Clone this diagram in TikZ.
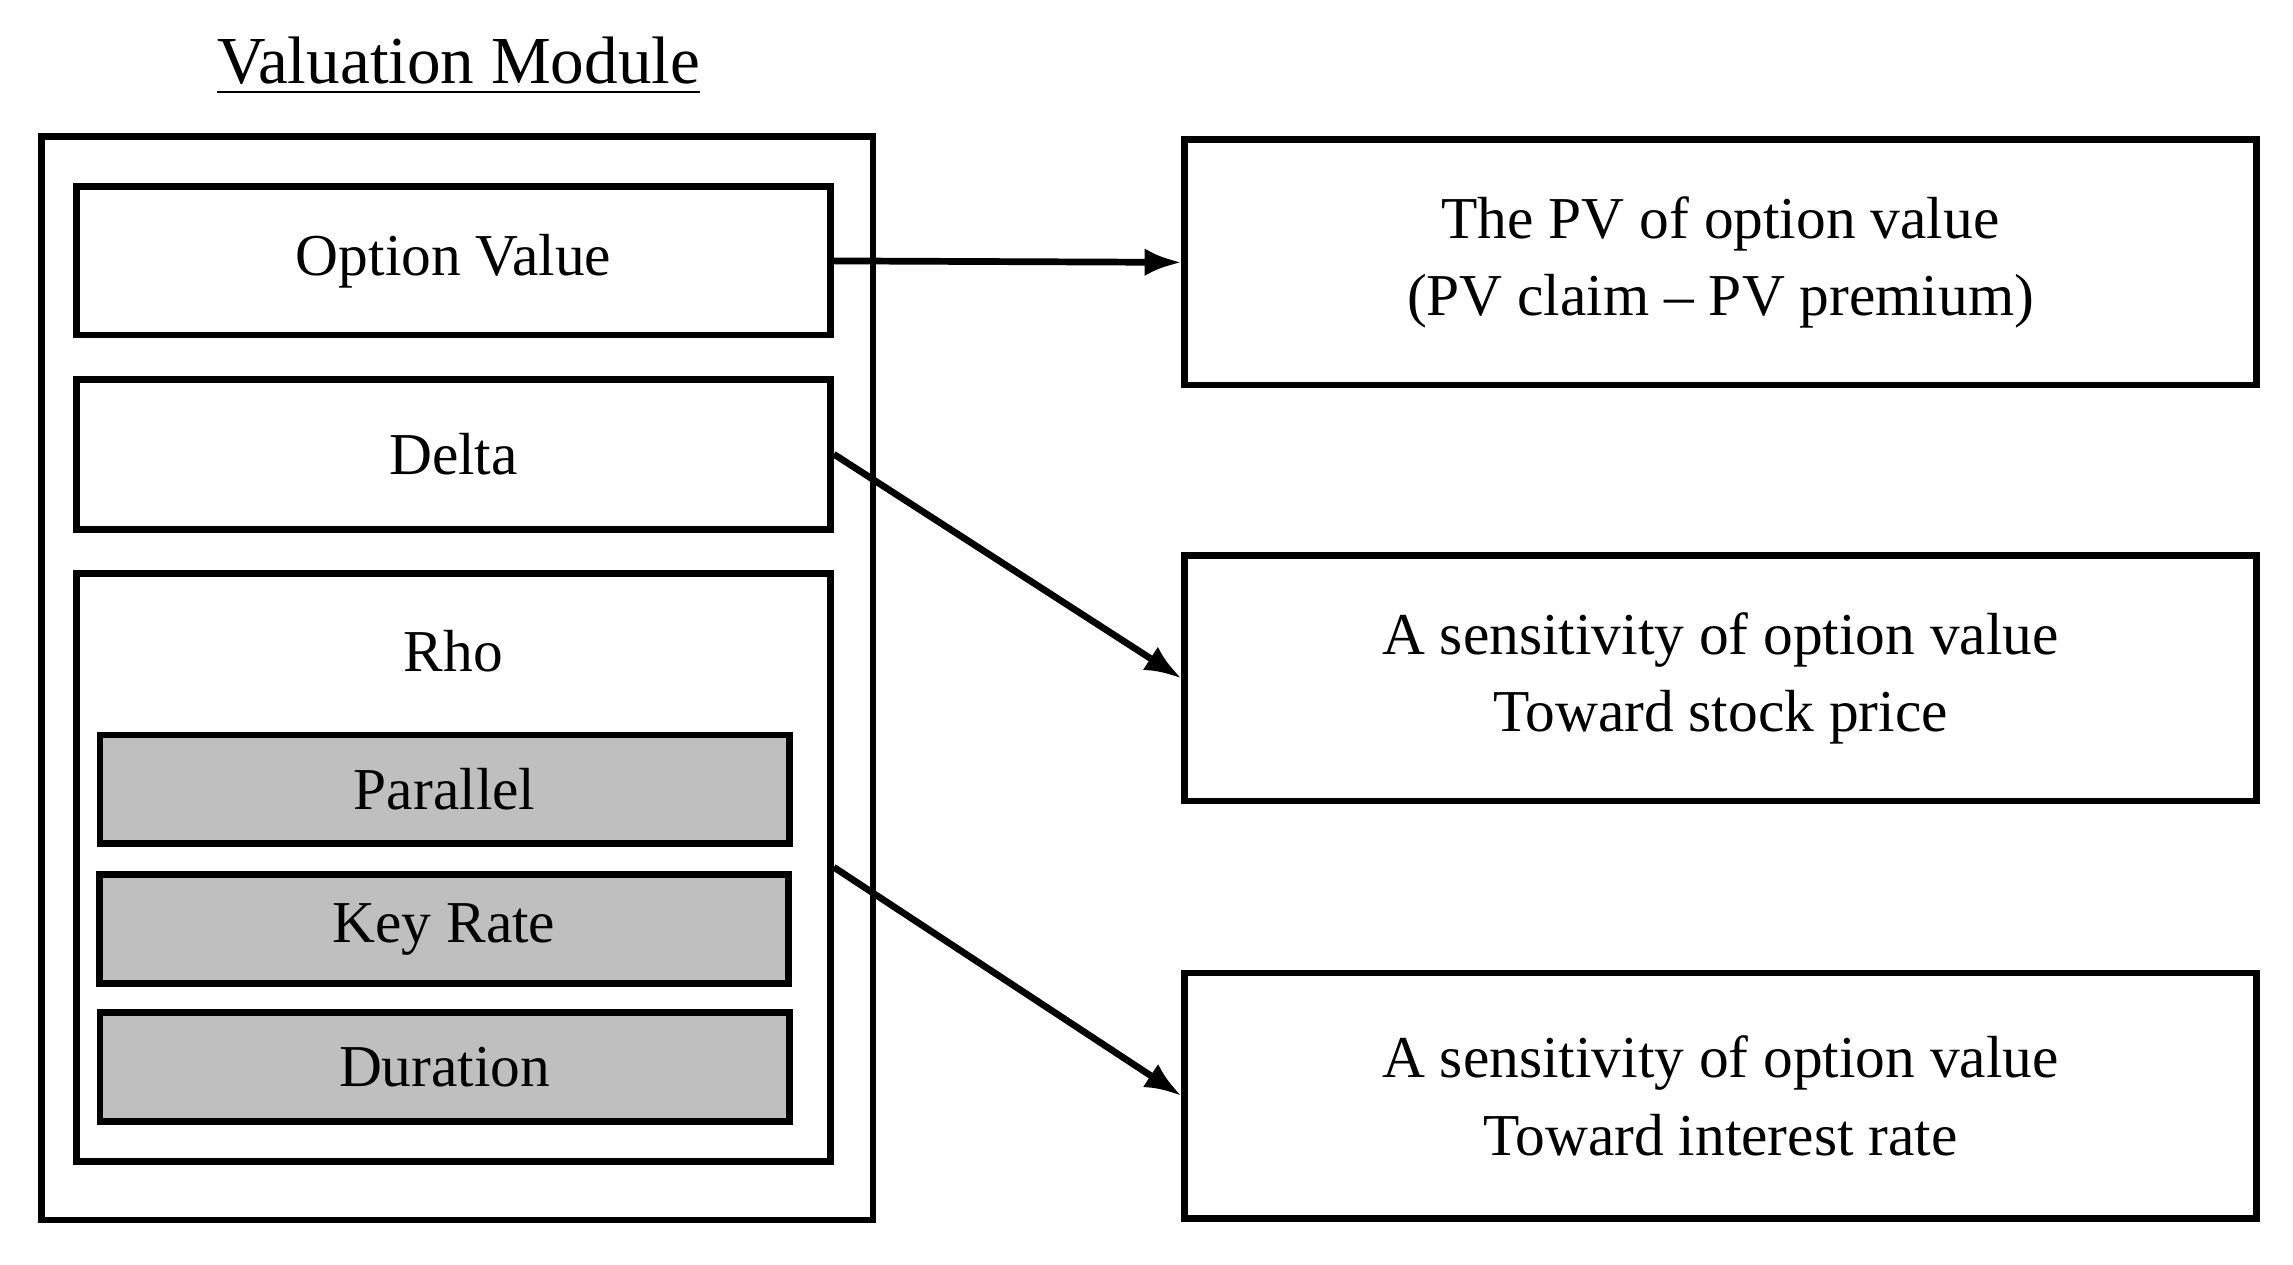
\documentclass[tikz,border=0pt]{standalone}
\usepackage{fontspec}
\setmainfont{Liberation Serif}
\usetikzlibrary{arrows.meta}
\usetikzlibrary{positioning}
\tikzset{>={Latex[length=2.5mm]}}
\tikzset{
    box/.style={draw, line width=1.3pt, inner sep=0pt, align=center,
        font=\fontsize{11.5}{15}\selectfont},
    subbox/.style={box, fill=black!25},
}
\begin{document}
\begin{tikzpicture}
		\useasboundingbox (0,0) rectangle (15.6,-8.6);
		\node[font=\fontsize{13}{15}\selectfont] (title) at (3.12,-0.45) {\underline{Valuation\ Module}};
		\draw[line width=1.3pt] (0.28,-0.93) rectangle (5.94,-8.30);
		\node[box, minimum width=5.13cm, minimum height=1.01cm] (ov) at (3.085,-1.775) {Option Value};
		\node[box, minimum width=5.13cm, minimum height=1.02cm] (delta) at (3.085,-3.09) {Delta};
		\node[box, minimum width=5.13cm, minimum height=4.00cm] (rho) at (3.085,-5.90) {};
		\node[font=\fontsize{11.5}{15}\selectfont] at (3.085,-4.43) {Rho};
		\node[subbox, minimum width=4.69cm, minimum height=0.74cm] (par) at (3.025,-5.37) {Parallel};
		\node[subbox, minimum width=4.69cm, minimum height=0.74cm] (key) at (3.02,-6.32) {Key Rate};
		\node[subbox, minimum width=4.69cm, minimum height=0.74cm] (dur) at (3.025,-7.26) {Duration};
		\node[box, minimum width=7.29cm, minimum height=1.67cm] (pv) at (11.705,-1.785) {The PV of option value\\(PV claim -- PV premium)};
		\node[box, minimum width=7.29cm, minimum height=1.67cm] (stock) at (11.705,-4.615) {A sensitivity\ of option value\\Toward stock price};
		\node[box, minimum width=7.29cm, minimum height=1.67cm] (rate) at (11.705,-7.455) {A sensitivity\ of option value\\Toward interest rate};
		\draw[->, line width=1.3pt] (ov.east) -- (pv.west);
		\draw[->, line width=1.3pt] (delta.east) -- (stock.west);
		\draw[->, line width=1.3pt] (rho.east) -- (rate.west);
	\end{tikzpicture}
\end{document}
